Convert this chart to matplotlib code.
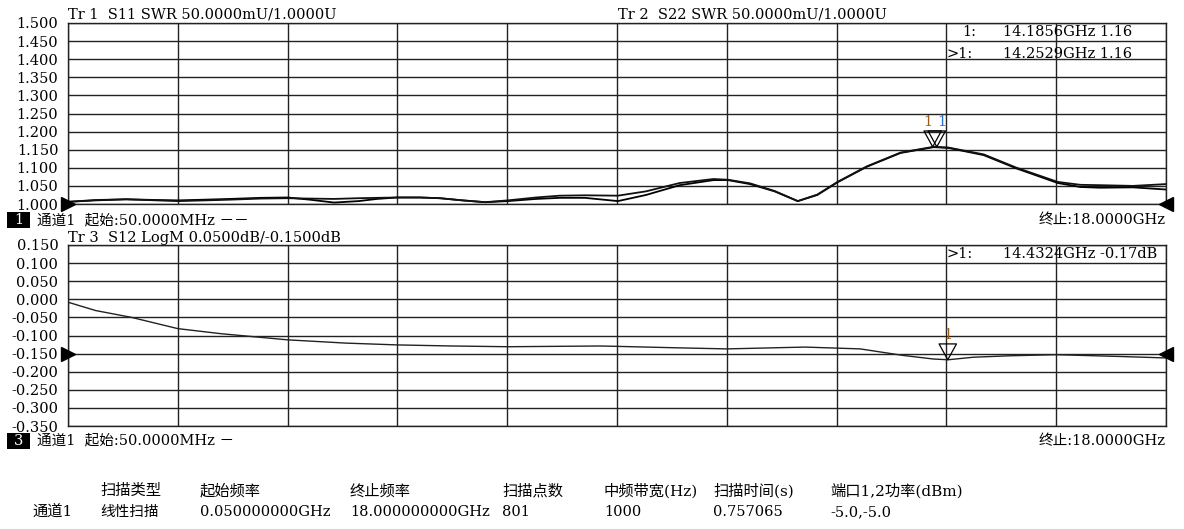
import numpy as np
import matplotlib.pyplot as plt
from matplotlib.path import Path
from matplotlib.patches import Rectangle

plt.rcParams['font.family'] = ['DejaVu Serif', 'Noto Sans CJK SC']

# ---- data (GHz) ----
freq_swr = [0.05, 0.5, 1.0, 1.5, 1.85, 2.3, 2.7, 3.2, 3.64, 4.0, 4.4, 4.8, 5.1, 5.43,
            5.8, 6.13, 6.5, 6.87, 7.24, 7.7, 8.09, 8.5, 9.04, 9.5, 10.05, 10.6, 10.84,
            11.2, 11.6, 11.98, 12.3, 12.63, 13.11, 13.66, 14.2, 14.44, 15.02, 15.56,
            16.23, 16.6, 16.92, 17.46, 18.0]
s11_swr = [1.006, 1.010, 1.013, 1.011, 1.010, 1.012, 1.014, 1.017, 1.018, 1.012, 1.004,
           1.008, 1.014, 1.018, 1.018, 1.016, 1.010, 1.005, 1.008, 1.014, 1.017, 1.017,
           1.008, 1.025, 1.052, 1.066, 1.066, 1.055, 1.035, 1.008, 1.025, 1.060, 1.103,
           1.141, 1.157, 1.155, 1.135, 1.098, 1.058, 1.047, 1.045, 1.046, 1.040]
s22_swr = [1.006, 1.011, 1.013, 1.010, 1.008, 1.010, 1.012, 1.015, 1.016, 1.015, 1.014,
           1.016, 1.017, 1.018, 1.018, 1.016, 1.010, 1.005, 1.010, 1.018, 1.023, 1.024,
           1.023, 1.035, 1.058, 1.069, 1.067, 1.057, 1.036, 1.008, 1.026, 1.061, 1.104,
           1.142, 1.158, 1.156, 1.137, 1.100, 1.061, 1.053, 1.052, 1.050, 1.055]

freq_s12 = [0.05, 0.5, 1.09, 1.845, 2.55, 3.64, 4.59, 5.43, 6.33, 7.24, 8.75, 9.03,
            10.0, 10.82, 12.1, 13.0, 13.7, 14.2, 14.44, 14.85, 15.45, 16.2, 17.26, 18.0]
s12_db = [-0.008, -0.031, -0.050, -0.081, -0.095, -0.112, -0.121, -0.126, -0.129,
          -0.131, -0.129, -0.130, -0.134, -0.137, -0.132, -0.137, -0.155, -0.165,
          -0.167, -0.160, -0.156, -0.153, -0.158, -0.162]

mk_swr_freq = [14.1856, 14.2529]
mk_swr_val = [1.158, 1.158]
mk_s12_freq = [14.4324]
mk_s12_val = [-0.167]

table_head = ['扫描类型', '起始频率', '终止频率', '扫描点数', '中频带宽(Hz)', '扫描时间(s)', '端口1,2功率(dBm)']
table_row = ['线性扫描', '0.050000000GHz', '18.000000000GHz', '801', '1000', '0.757065', '-5.0,-5.0']
table_x = [100, 200, 350, 502, 604, 713, 830]

W, H = 1184, 529
fig = plt.figure(figsize=(W / 100, H / 100), dpi=100)
fs = 10.5


def px(x, y):
    return x / W, 1 - y / H


def make_ax(top, ylo, yhi):
    ax = fig.add_axes([68 / W, 1 - (top + 181) / H, 1098 / W, 181 / H])
    ax.set_xlim(0.05, 18.0)
    ax.set_ylim(ylo, yhi)
    ax.set_xticks(np.linspace(0.05, 18.0, 11))
    ax.set_xticklabels([])
    yt = np.linspace(ylo, yhi, 11)
    ax.set_yticks(yt)
    ax.set_yticklabels(['%.3f' % v for v in yt], fontsize=fs)
    ax.tick_params(length=0, pad=7)
    ax.grid(True, color='#222222', linewidth=1.0)
    for s in ax.spines.values():
        s.set_color('#222222')
        s.set_linewidth(1.0)
    return ax


tip_down = Path([(-0.55, 1.0), (0.55, 1.0), (0, 0), (-0.55, 1.0)],
                [Path.MOVETO, Path.LINETO, Path.LINETO, Path.CLOSEPOLY])

# ---- top: SWR ----
ax1 = make_ax(23, 1.0, 1.5)
ax1.plot(freq_swr, s11_swr, color='black', lw=1.3)
ax1.plot(freq_swr, s22_swr, color='#111111', lw=1.3)
ax1.scatter(mk_swr_freq, mk_swr_val, marker=tip_down, s=520, facecolor='none',
            edgecolor='black', linewidth=0.9, zorder=5)
for f, v, c, ha in zip(mk_swr_freq, mk_swr_val, ['#9a5a1c', '#2a6fd0'], ['right', 'left']):
    ax1.text(f, v + 0.05, '1', color=c, fontsize=10.5, ha=ha, va='bottom')
ax1.plot([0], [1.0], marker='>', color='black', ms=10, clip_on=False,
         transform=ax1.get_yaxis_transform(), zorder=6)
ax1.plot([1.0], [1.0], marker='<', color='black', ms=10, clip_on=False,
         transform=ax1.get_yaxis_transform(), zorder=6)

# ---- bottom: S12 LogM ----
ax2 = make_ax(245, -0.35, 0.15)
ax2.plot(freq_s12, s12_db, color='#222222', lw=1.0)
ax2.scatter(mk_s12_freq, mk_s12_val, marker=tip_down, s=520, facecolor='none',
            edgecolor='black', linewidth=0.9, zorder=5)
ax2.text(mk_s12_freq[0], mk_s12_val[0] + 0.05, '1', color='#9a5a1c', fontsize=10.5,
         ha='center', va='bottom')
ax2.plot([0], [-0.15], marker='>', color='black', ms=10, clip_on=False,
         transform=ax2.get_yaxis_transform(), zorder=6)
ax2.plot([1.0], [-0.15], marker='<', color='black', ms=10, clip_on=False,
         transform=ax2.get_yaxis_transform(), zorder=6)

# ---- screen annotations ----
fig.text(*px(68, 15), 'Tr 1  S11 SWR 50.0000mU/1.0000U', fontsize=fs, va='center')
fig.text(*px(618, 15), 'Tr 2  S22 SWR 50.0000mU/1.0000U', fontsize=fs, va='center')
fig.text(*px(68, 238), 'Tr 3  S12 LogM 0.0500dB/-0.1500dB', fontsize=fs, va='center')

fig.text(*px(962, 32), '1:', fontsize=fs, va='center')
fig.text(*px(1003, 32), '14.1856GHz 1.16', fontsize=fs, va='center')
fig.text(*px(947, 54), '>1:', fontsize=fs, va='center')
fig.text(*px(1003, 54), '14.2529GHz 1.16', fontsize=fs, va='center')
fig.text(*px(947, 254), '>1:', fontsize=fs, va='center')
fig.text(*px(1003, 254), '14.4324GHz -0.17dB', fontsize=fs, va='center')

for y, num, dash in [(220, '1', '－－'), (441, '3', '－')]:
    x0, y0 = px(7, y + 8)
    fig.add_artist(Rectangle((x0, y0), 23 / W, 16 / H, transform=fig.transFigure,
                             facecolor='black', edgecolor='none'))
    fig.text(*px(18.5, y), num, fontsize=fs, color='white', ha='center', va='center')
    fig.text(*px(37, y), '通道1  起始:50.0000MHz ' + dash, fontsize=fs, va='center')
    fig.text(*px(1166, y), '终止:18.0000GHz', fontsize=fs, va='center', ha='right')

for x, h, r in zip(table_x, table_head, table_row):
    fig.text(*px(x, 491), h, fontsize=11, va='center')
    fig.text(*px(x, 512), r, fontsize=fs, va='center')
fig.text(*px(32, 512), '通道1', fontsize=11, va='center')

fig.savefig('out.png', dpi=100)
